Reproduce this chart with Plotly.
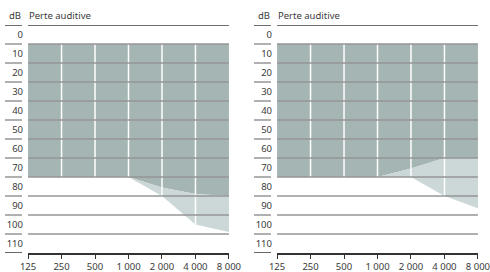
import math
import plotly.graph_objects as go

# ---- data ----
freqs = [125, 250, 500, 1000, 2000, 4000, 8000]
freq_labels = ["125", "250", "500", "1 000", "2 000", "4 000", "8 000"]
db_ticks = [0, 10, 20, 30, 40, 50, 60, 70, 80, 90, 100, 110]
db_labels = [str(v) for v in db_ticks]
band_edges = [-5, 5, 15, 25, 35, 45, 55, 65, 75, 85, 95, 105, 115]

fill_top = [5, 5, 5, 5, 5, 5, 5]
left_upper = [75, 75, 75, 75, 80.5, 84, 85]
left_lower = [75, 75, 75, 75, 85, 100, 104]
right_upper = [75, 75, 75, 75, 70.5, 65, 65]
right_lower = [75, 75, 75, 75, 75, 85, 91.5]

title_db = "dB"
title_text = "Perte auditive"

# ---- style ----
W, H = 490, 272
DARK = "rgb(164,181,179)"
LIGHT = "rgb(203,216,215)"
GRID = "rgb(150,150,150)"
TXT = "#3a3a3a"
FONT = "Noto Sans"
FS = 9.5

plot_top, plot_bot = 25, 253
panels = [(28, 229), (277, 478)]

fig = go.Figure()
layout = dict(
    width=W, height=H, autosize=False,
    margin=dict(l=0, r=0, t=0, b=0),
    paper_bgcolor="white", plot_bgcolor="white",
    showlegend=False, hovermode=False,
    font=dict(family=FONT, size=FS, color=TXT),
)
shapes = []
annotations = []

for i, ((x0px, x1px), upper, lower) in enumerate(
        zip(panels, [left_upper, right_upper], [left_lower, right_lower])):
    sfx = "" if i == 0 else str(i + 1)
    xa, ya = "x" + sfx, "y" + sfx
    pw = x1px - x0px
    # fills
    fig.add_trace(go.Scatter(x=freqs, y=fill_top, mode="lines", line=dict(width=0),
                             xaxis=xa, yaxis=ya))
    fig.add_trace(go.Scatter(x=freqs, y=upper, mode="lines", line=dict(width=0),
                             fill="tonexty", fillcolor=DARK, xaxis=xa, yaxis=ya))
    fig.add_trace(go.Scatter(x=freqs, y=lower, mode="lines", line=dict(width=0),
                             fill="tonexty", fillcolor=LIGHT, xaxis=xa, yaxis=ya))
    # white vertical lines through the filled area
    for f, t, lo in zip(freqs[1:-1], fill_top[1:-1], lower[1:-1]):
        fig.add_trace(go.Scatter(x=[f, f], y=[t, lo], mode="lines",
                                 line=dict(color="white", width=1.5),
                                 xaxis=xa, yaxis=ya))
    layout["xaxis" + sfx] = dict(
        domain=[x0px / W, x1px / W], anchor=ya, type="log",
        range=[math.log10(freqs[0]) - 0.0005, math.log10(freqs[-1]) + 0.0005],
        tickmode="array", tickvals=freqs, ticktext=freq_labels,
        ticks="outside", ticklen=4, tickwidth=1.2, tickcolor="#333",
        showline=True, linecolor="#333", linewidth=1.5,
        showgrid=False, zeroline=False, automargin=False,
        ticklabeloverflow="allow",
        tickfont=dict(family=FONT, size=FS, color=TXT),
    )
    layout["yaxis" + sfx] = dict(
        domain=[1 - plot_bot / H, 1 - plot_top / H], anchor=xa,
        range=[band_edges[-1], band_edges[0]],
        tickmode="array", tickvals=db_ticks, ticktext=db_labels,
        ticks="", showline=False, showgrid=False, zeroline=False,
        automargin=False, ticklabelstandoff=4,
        tickfont=dict(family=FONT, size=FS, color=TXT),
    )
    # horizontal band lines
    for k, e in enumerate(band_edges):
        if k == 0:
            col, wid = "rgb(110,110,110)", 2
        elif k == len(band_edges) - 1:
            col, wid = "#333", 1.5
        else:
            col, wid = GRID, 1.5
        if k < len(band_edges) - 1:
            shapes.append(dict(type="line", xref=xa, yref=ya, x0=freqs[0], x1=freqs[-1],
                               y0=e, y1=e, line=dict(color=col, width=wid), layer="above"))
        shapes.append(dict(type="line", xref=xa + " domain", yref=ya,
                           x0=-23 / pw, x1=-6 / pw, y0=e, y1=e,
                           line=dict(color=col, width=wid), layer="above"))
    hy = (plot_bot - 15) / (plot_bot - plot_top)
    annotations.append(dict(text=title_db, xref=xa + " domain", yref=ya + " domain",
                            x=-5 / pw, y=hy, xanchor="right", yanchor="middle",
                            showarrow=False, font=dict(family=FONT, size=FS, color=TXT)))
    annotations.append(dict(text=title_text, xref=xa + " domain", yref=ya + " domain",
                            x=-1 / pw, y=hy, xanchor="left", yanchor="middle",
                            showarrow=False, font=dict(family=FONT, size=FS, color=TXT)))

layout["shapes"] = shapes
layout["annotations"] = annotations
fig.update_layout(**layout)
fig.write_html("out.html", config={"displayModeBar": False},
               post_script="document.body.style.margin='0';")
